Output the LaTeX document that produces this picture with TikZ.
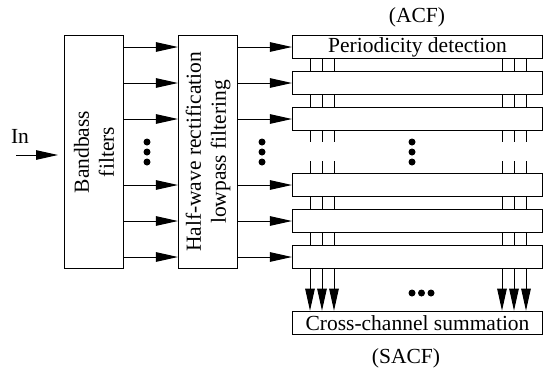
\documentclass[tikz,border=0pt]{standalone}
\usepackage{fontspec}
\setmainfont{Liberation Serif}
\usetikzlibrary{arrows.meta}
\begin{document}
\begin{tikzpicture}[x=1pt,y=-1pt,
  box/.style={draw,line width=1.1pt,inner sep=0pt,font=\fontsize{21.5}{25}\selectfont},
  rbox/.style={box,minimum width=250pt,minimum height=23.5pt},
  vbox/.style={box,minimum width=59pt,minimum height=233pt},
  arr/.style={line width=1pt,-{Triangle[length=22pt,width=9.5pt]}},
  link/.style={line width=1pt},
  lbl/.style={font=\fontsize{21.5}{25}\selectfont,inner sep=0pt},
  dot/.style={fill=black,circle,inner sep=0pt,minimum size=7pt}]
\useasboundingbox (0,0) rectangle (544,373);
% left boxes
\node[vbox] (bp) at (94,152) {};
\node[lbl,rotate=90,align=center] at (bp.center) {Bandbass\\filters};
\node[vbox] (hw) at (208,152) {};
\node[lbl,rotate=90,align=center] at (hw.center) {Half-wave rectification\\lowpass filtering};
% right boxes
\node[rbox] (r1) at (417.5,47) {Periodicity detection};
\node[rbox] (r2) at (417.5,83) {};
\node[rbox] (r3) at (417.5,119) {};
\node[rbox] (r4) at (417.5,185) {};
\node[rbox] (r5) at (417.5,221) {};
\node[rbox] (r6) at (417.5,257) {};
\node[rbox] (sum) at (417.5,323) {Cross-channel summation};
\node[lbl] (acf) at (417,17) {(ACF)};
\node[lbl] (sacf) at (406,358) {(SACF)};
% input
\node[lbl] (in) at (20,136) {In};
\coordinate (inS) at (16,155);
\coordinate (inE) at (58,155);
\draw[arr] (inS) -- (inE);
% arrows
\foreach \r in {r1,r2,r3,r4,r5,r6}{
  \draw[arr] (bp.east |- \r) -- (hw.west |- \r);
  \draw[arr] (hw.east |- \r) -- (\r.west);
}
% vertical links
\foreach \x in {310,322,334,502,514,526}{
  \draw[link] (\x,0 |- r1.south) -- (\x,0 |- r2.north);
  \draw[link] (\x,0 |- r2.south) -- (\x,0 |- r3.north);
  \draw[link] (\x,0 |- r3.south) -- (\x,142);
  \draw[link] (\x,161) -- (\x,0 |- r4.north);
  \draw[link] (\x,0 |- r4.south) -- (\x,0 |- r5.north);
  \draw[link] (\x,0 |- r5.south) -- (\x,0 |- r6.north);
  \draw[arr] (\x,0 |- r6.south) -- (\x,0 |- sum.north);
}
% dots
\foreach \x in {147,262,412}{
  \foreach \y in {142,152,162}{
    \node[dot] at (\x,\y) {};
  }
}
\foreach \x in {412,421.5,431}{
  \node[dot] at (\x,293) {};
}
\end{tikzpicture}
\end{document}
